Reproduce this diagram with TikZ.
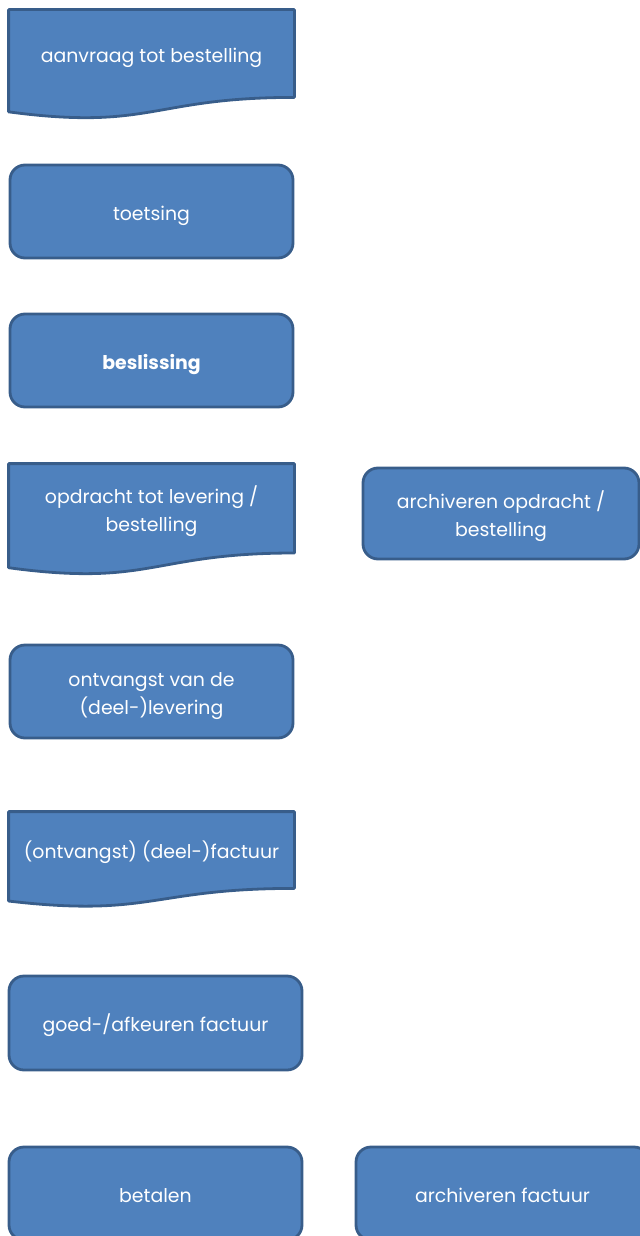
\documentclass[tikz,border=0pt]{standalone}
\usepackage{fontspec}
\setmainfont{Poppins}
\usetikzlibrary{calc, backgrounds}
\definecolor{vakvul}{HTML}{4F81BD}
\definecolor{vakrand}{HTML}{385D8A}

\begin{document}
\begin{tikzpicture}[
  x=0.5pt, y=-0.5pt,
  vak/.style  = {draw=vakrand, fill=vakvul, line width=1.4pt, rounded corners=7.5pt,
                 text=white, align=center, inner sep=0pt,
                 font=\fontsize{9.45}{14}\selectfont,
                 text height=8.8pt, text depth=0pt,
                 minimum width=141.5pt, minimum height=46.5pt},
  twee/.style = {text height=22.8pt},
  doc/.style  = {vak, draw=none, fill=none, rounded corners=0pt},
  golf/.style = {draw=vakrand, fill=vakvul, line width=1.4pt, line join=round},
]
  \useasboundingbox (0,0) rectangle (640,1236);

  % Linker kolom
  \node[doc, minimum height=42.5pt] (aanvraag)  at (151.5,53.5)  {aanvraag tot bestelling};
  \node[vak]                        (toetsing)  at (151.5,211.5) {toetsing};
  \node[vak, font=\fontsize{9.45}{14}\selectfont\bfseries]
                                    (besluit)   at (151.5,360.5) {beslissing};
  \node[doc, twee, minimum height=43.3pt]
                                    (opdracht)  at (151.5,508.3) {opdracht tot levering /\\ bestelling};
  \node[vak, twee]                  (ontvangst) at (151.5,691.5) {ontvangst van de\\ (deel-)levering};
  \node[doc, minimum height=37pt]   (factuur)   at (151.5,850)   {(ontvangst) (deel-)factuur};
  \node[vak, minimum width=146.5pt, minimum height=47pt]
                                    (keuren)    at (155.5,1023)  {goed-/afkeuren factuur};
  \node[vak, minimum width=146.5pt] (betalen)   at (155.5,1193.5) {betalen};

  % Rechter kolom
  \node[vak, twee, minimum width=138pt, minimum height=45.5pt]
                                    (archopdr)  at (501,513.5)   {archiveren opdracht /\\ bestelling};
  \node[vak, minimum width=146.5pt] (archfact)  at (502.5,1193.5) {archiveren factuur};

  % Golvende onderrand van de documentvormen
  \begin{scope}[on background layer]
    \foreach \vorm in {aanvraag, opdracht, factuur}
      \draw[golf] let \p1 = (\vorm.north), \p2 = (\vorm.south), \n1 = {\y1-\y2} in
        (\vorm.north west) -- (\vorm.north east) -- (\vorm.south east)
        .. controls (\vorm.south) and ($(\vorm.south)+(0pt,{-0.381*\n1})$)
        .. ($(\vorm.south west)+(0pt,{-0.1646*\n1})$) -- cycle;
  \end{scope}
\end{tikzpicture}
\end{document}
